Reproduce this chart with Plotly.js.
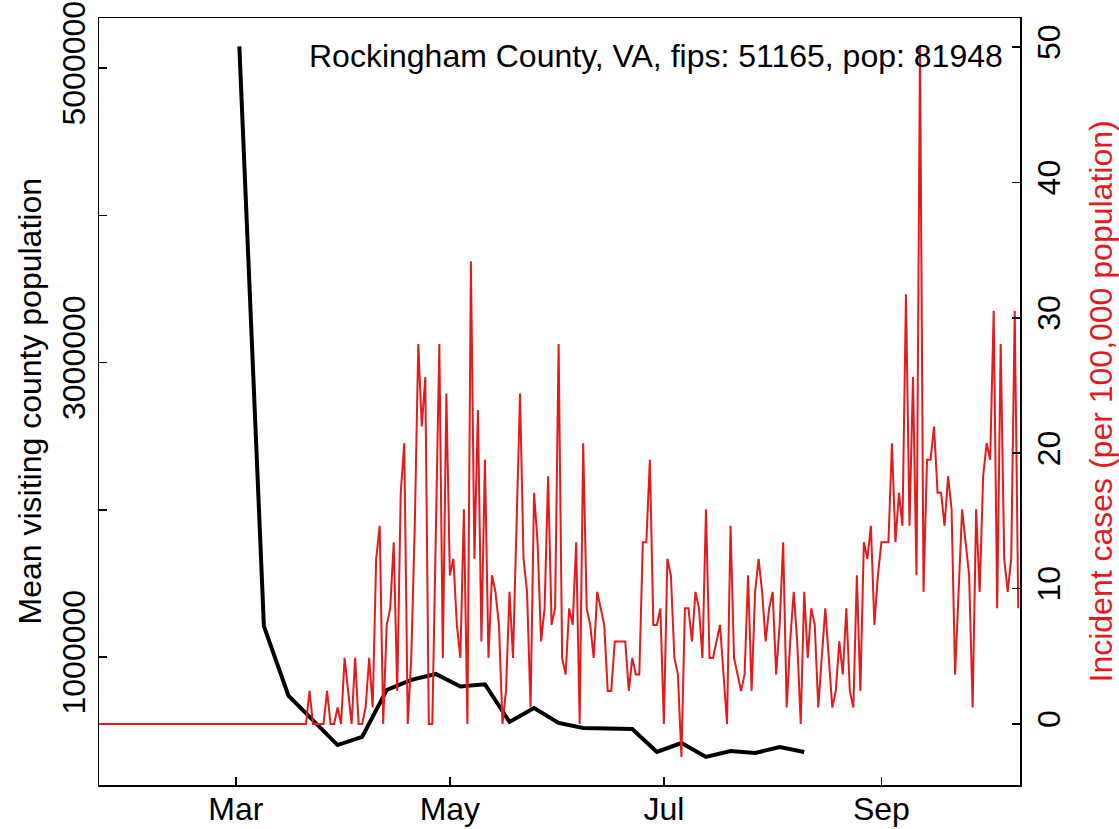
<!DOCTYPE html>
<html><head><meta charset="utf-8">
<script src="https://cdn.plot.ly/plotly-3.0.1.min.js"></script>
<style>html,body{margin:0;padding:0;background:#fff}</style>
</head><body>
<div id="chart" style="width:1119px;height:829px"></div>
<script>
// Weekly mean visiting county population (black line)
const visitDates = ['2020-03-02','2020-03-09','2020-03-16','2020-03-23','2020-03-30','2020-04-06','2020-04-13','2020-04-20','2020-04-27','2020-05-04','2020-05-11','2020-05-18','2020-05-25','2020-06-01','2020-06-08','2020-06-15','2020-06-22','2020-06-29','2020-07-06','2020-07-13','2020-07-20','2020-07-27','2020-08-03','2020-08-10'];
const visitPop = [5147000,1210000,738000,572000,402000,457000,776000,845000,885000,800000,815000,559000,654000,552000,518000,514000,511000,355000,416000,321000,362000,348000,389000,355000];

// Daily incident cases per 100,000 (red line), starting 2020-01-22
const caseStartDate = '2020-01-22';
const caseValues = [
0,0,0,0,0,0,0,0,0,0, 0,0,0,0,0,0,0,0,0,0,
0,0,0,0,0,0,0,0,0,0, 0,0,0,0,0,0,0,0,0,0,
0,0,0,0,0,0,0,0,0,0, 0,0,0,0,0,0,0,0,0,0,
2.44,0,0,0,0,2.44,0,0,1.22,0,
4.88,2.44,0,4.88,0,0,1.22,4.88,1.22,12.20,
14.64,0,7.32,8.54,13.42,2.44,17.08,20.74,0,4.88,
14.64,28.07,21.97,25.63,0,0,13.42,28.07,4.88,24.41,
10.98,12.20,7.32,4.88,15.86,0,34.17,12.20,23.19,6.10,
19.52,4.88,10.98,9.76,7.32,0,2.44,9.76,4.88,14.64,
24.41,12.20,9.76,1.22,17.08,13.42,6.10,8.54,18.30,7.32,
8.54,28.07,4.88,3.66,8.54,7.32,13.42,0,20.74,8.54,
7.32,4.88,9.76,8.54,7.32,2.44,2.44,6.10,6.10,6.10,
6.10,2.44,4.88,3.66,3.66,13.42,13.42,19.52,7.32,7.32,
8.54,0,12.20,10.98,4.88,3.66,-2.44,8.54,8.54,6.10,
9.76,8.54,4.88,15.86,4.88,4.88,6.10,7.32,3.66,0,
14.64,4.88,3.66,2.44,3.66,10.98,2.44,9.76,12.20,9.76,
6.10,8.54,9.76,3.66,7.32,13.42,1.22,6.10,9.76,6.10,
0,9.76,4.88,8.54,7.32,1.22,4.88,8.54,4.88,1.22,
2.44,6.10,3.66,8.54,2.44,1.22,10.98,2.44,13.42,12.20,
14.64,7.32,10.98,13.42,13.42,13.42,20.74,13.42,17.08,14.64,
31.73,14.64,25.63,10.98,50.03,9.76,19.52,19.52,21.97,17.08,
17.08,14.64,18.30,15.86,3.66,9.76,15.86,13.42,10.98,1.22,
15.86,9.76,18.30,20.74,19.52,30.51,8.54,28.07,12.20,9.76,
12.20,30.51,8.54
];

const xTickVals = ['2020-03-01','2020-05-01','2020-07-01','2020-09-01'];
const xTickText = ['Mar','May','Jul','Sep'];
const yTickVals = [1000000,2000000,3000000,4000000,5000000];
const yTickText = ['1000000','','3000000','','5000000'];
const y2TickVals = [0,10,20,30,40,50];
const y2TickText = ['0','10','20','30','40','50'];

const titleText = 'Rockingham County, VA, fips: 51165, pop: 81948';
const yTitle = 'Mean visiting county population';
const y2Title = 'Incident cases (per 100,000 population)';

// daily date labels for the case series
const caseDates = [];
{
  const d0 = new Date(caseStartDate + 'T00:00:00Z');
  for (let i = 0; i < caseValues.length; i++) {
    const d = new Date(d0.getTime() + i * 86400000);
    caseDates.push(d.toISOString().slice(0, 10));
  }
}

const RED = '#E41A1C';
const FONT = 'Liberation Sans, Arial, Helvetica, sans-serif';
const FS = 32;

const traces = [
  {x: visitDates, y: visitPop, type: 'scatter', mode: 'lines',
   line: {color: '#000000', width: 4}, yaxis: 'y', showlegend: false, hoverinfo: 'skip'},
  {x: caseDates, y: caseValues, type: 'scatter', mode: 'lines',
   line: {color: RED, width: 2}, yaxis: 'y2', showlegend: false, hoverinfo: 'skip'}
];

const axisCommon = {
  showgrid: false, zeroline: false, showline: true, linecolor: '#000', linewidth: 1.5,
  ticks: 'inside', ticklen: 8, tickwidth: 1.5, tickcolor: '#000',
  tickfont: {family: FONT, size: FS, color: '#000'}
};

const layout = {
  width: 1119, height: 829,
  margin: {l: 99, r: 99, t: 18, b: 44, pad: 0},
  paper_bgcolor: '#fff', plot_bgcolor: '#fff',
  font: {family: FONT, size: FS, color: '#000'},
  showlegend: false,
  xaxis: Object.assign({}, axisCommon, {
    type: 'date', range: ['2020-01-22', '2020-10-10 12:00'],
    tickmode: 'array', tickvals: xTickVals, ticktext: xTickText, mirror: true,
    ticklabelstandoff: -5
  }),
  yaxis: Object.assign({}, axisCommon, {
    range: [130750, 5339550], tickmode: 'array', tickvals: yTickVals, ticktext: yTickText,
    tickangle: -90
  }),
  yaxis2: Object.assign({}, axisCommon, {
    overlaying: 'y', side: 'right', range: [-4.505, 52.14],
    tickmode: 'array', tickvals: y2TickVals, ticktext: y2TickText, tickangle: -90
  }),
  annotations: [
    {text: titleText, xref: 'paper', yref: 'paper', x: 1, y: 1, xshift: -15, yshift: -38,
     xanchor: 'right', yanchor: 'middle', showarrow: false,
     font: {family: FONT, size: FS, color: '#000'}},
    {text: yTitle, xref: 'paper', yref: 'paper', x: 0, y: 0.5, xshift: -70,
     xanchor: 'center', yanchor: 'middle', textangle: -90, showarrow: false,
     font: {family: FONT, size: FS, color: '#000'}},
    {text: y2Title, xref: 'paper', yref: 'paper', x: 1, y: 0.5, xshift: 80,
     xanchor: 'center', yanchor: 'middle', textangle: -90, showarrow: false,
     font: {family: FONT, size: FS, color: RED}}
  ]
};

Plotly.newPlot('chart', traces, layout, {staticPlot: true, displayModeBar: false});
</script>
</body></html>
